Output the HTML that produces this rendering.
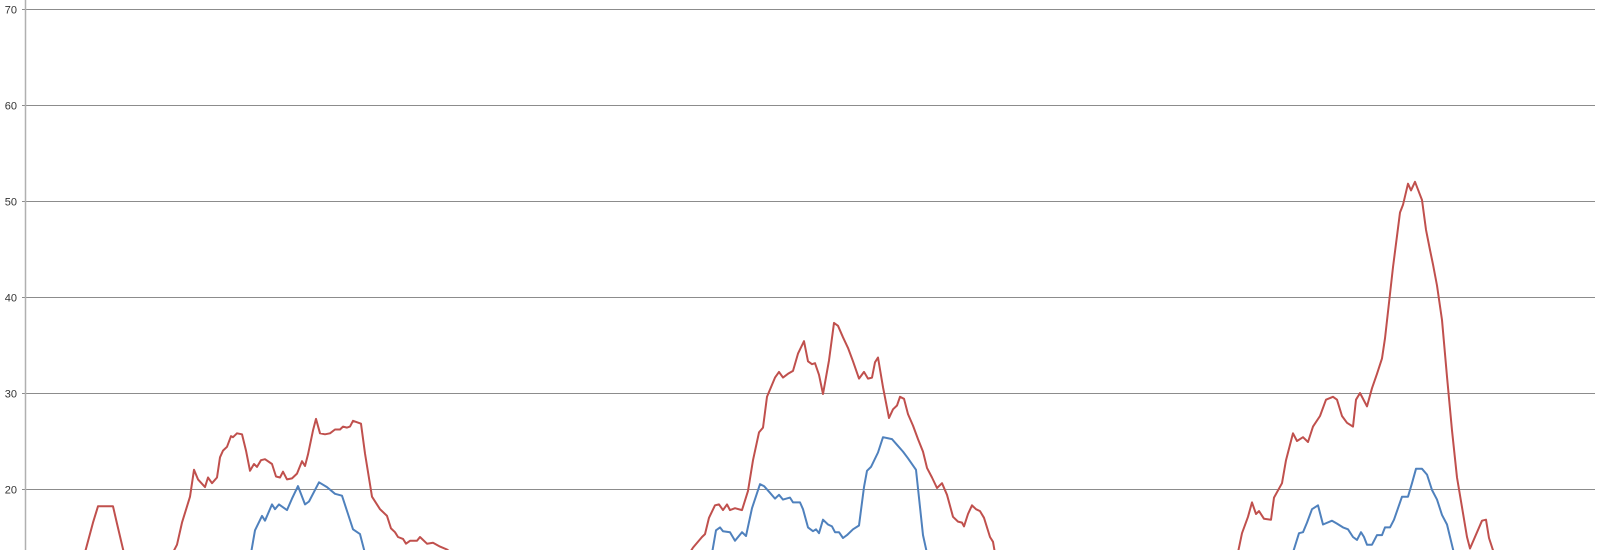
<!DOCTYPE html>
<html><head><meta charset="utf-8"><style>
html,body{margin:0;padding:0;background:#fff;width:1600px;height:550px;overflow:hidden}
svg{display:block;font-family:"Liberation Sans",sans-serif;overflow:hidden}
</style></head><body>
<svg id="chart" width="1600" height="550" viewBox="0 0 1600 550">
<defs><clipPath id="plotclip"><rect x="0" y="0" width="1600" height="550"/></clipPath></defs>
</svg>
<script>
const yTicks=[20,30,40,50,60,70];
const redT=[25,80,85,93,98,113,117,124,130,168,173,177,182,190,194,198,205,208,212,217,220,223,227,231,233,237,242,246,250,254,257,261,265,272,276,280,283,287,292,297,302,305,308,313,316,320,325,330,335,340,343,347,350,353,361,365,372,380,387,391,395,398,403,406,410,417,420,427,433,440,447,452,458,686,690,693,702,705,709,715,719,723,727,730,735,742,748,753,759,763,767,775,779,783,788,793,798,804,808,812,815,819,823,829,834,838,843,848,853,859,864,868,872,875,878,883,889,893,897,900,904,908,913,918,923,927,932,937,942,947,953,958,962,964,968,972,976,980,984,990,993,995,1000,1233,1238,1242,1248,1252,1256,1259,1264,1271,1274,1282,1286,1293,1297,1303,1308,1313,1320,1326,1333,1337,1342,1347,1353,1356,1360,1367,1372,1377,1382,1385,1389,1393,1400,1403,1408,1411,1415,1422,1426,1430,1433,1437,1442,1447,1452,1457,1462,1467,1470,1482,1486,1489,1494,1500,1595];
const redV=[5,5,13.4,16.5,18.2,18.2,16.4,13.3,5,5,13.4,14.2,16.5,19.2,22,21,20.2,21.2,20.6,21.2,23.3,24,24.4,25.5,25.4,25.8,25.7,24,21.9,22.6,22.3,23,23.1,22.6,21.3,21.2,21.8,21,21.1,21.6,22.9,22.4,23.6,26.1,27.3,25.8,25.7,25.8,26.2,26.2,26.5,26.4,26.5,27.1,26.8,23.7,19.2,17.9,17.2,15.9,15.5,15,14.8,14.3,14.6,14.6,15,14.3,14.4,14,13.7,13.3,5,5,13.4,13.9,15,15.3,17,18.3,18.4,17.8,18.4,17.8,18,17.8,19.8,23,25.9,26.4,29.6,31.6,32.2,31.6,32,32.3,34.1,35.4,33.3,33,33.1,31.9,29.9,33.4,37.3,37,35.8,34.7,33.3,31.5,32.2,31.5,31.6,33.2,33.7,30.6,27.4,28.3,28.7,29.6,29.4,27.8,26.6,25.2,23.9,22.2,21.2,20.1,20.6,19.4,17.1,16.6,16.5,16.1,17.4,18.3,17.9,17.7,17,15,14.5,13.3,5,5,13.4,15.4,17.1,18.6,17.4,17.7,16.9,16.8,19.1,20.6,23,25.8,25,25.4,24.9,26.5,27.6,29.3,29.6,29.3,27.6,26.9,26.5,29.3,30,28.6,30.5,32,33.6,35.7,39.4,43.1,48.8,49.6,51.8,51.1,52,50.1,47,44.9,43.4,41.2,37.6,31.7,26.1,21.2,18.1,15,13.8,16.7,16.8,14.9,13.3,5,5];
const blueT=[25,246,251,255,262,265,272,275,279,287,292,298,305,309,319,327,335,342,348,353,360,365,370,707,712,716,720,723,730,735,742,746,752,760,764,770,775,779,783,790,793,800,803,808,813,816,819,823,828,832,835,839,843,847,853,859,864,867,871,878,883,892,897,903,908,916,923,927,932,1288,1293,1299,1303,1307,1312,1318,1323,1332,1337,1343,1348,1353,1357,1361,1364,1367,1372,1377,1382,1385,1390,1394,1402,1408,1412,1416,1422,1427,1432,1437,1442,1447,1454,1460,1595];
const blueV=[5,5,13.3,15.7,17.2,16.7,18.4,17.9,18.4,17.8,19,20.3,18.4,18.7,20.7,20.2,19.5,19.3,17.4,15.8,15.3,13.3,5,5,13.3,15.7,16,15.6,15.5,14.6,15.5,15.1,18,20.5,20.3,19.6,19,19.4,18.9,19.1,18.6,18.6,17.9,16,15.6,15.8,15.4,16.8,16.3,16.1,15.5,15.5,14.9,15.2,15.8,16.2,20.2,21.9,22.3,23.8,25.4,25.2,24.6,23.9,23.2,22,15.2,13.3,5,5,13.4,15.4,15.5,16.5,17.9,18.3,16.3,16.7,16.4,16,15.8,15,14.7,15.5,15,14.2,14.2,15.2,15.2,16,16,16.8,19.2,19.2,20.6,22.1,22.1,21.5,19.9,18.9,17.3,16.3,13.3,5,5];

const NS='http://www.w3.org/2000/svg';
const svg=document.getElementById('chart');
const X0=25,X1=1595;
function xScale(t){return X0+(t-25)*(X1-X0)/(1595-25);}
function yScale(v){return 489-(v-20)*9.6;}
function mk(tag,attrs){const e=document.createElementNS(NS,tag);for(const k in attrs)e.setAttribute(k,attrs[k]);svg.appendChild(e);return e;}

yTicks.forEach(v=>{
  const y=Math.round(yScale(v))+0.5;
  const g=mk('line',{x1:22,x2:X1,y1:y,y2:y,stroke:'#8c8c8c','stroke-width':1});
  
  
  const t=mk('text',{x:17,y:y+4,'text-anchor':'end','font-size':11,fill:'#333'});
  t.textContent=v;
  
  
});
const ax=mk('line',{x1:25.5,x2:25.5,y1:0,y2:550,stroke:'#b0b0b0','stroke-width':1.5});



function series(T,V,color,name){
  const d=T.map((t,i)=>(i?'L':'M')+xScale(t).toFixed(1)+','+Math.min(yScale(V[i]),560).toFixed(1)).join(' ');
  const p=mk('path',{d:d,fill:'none',stroke:color,'stroke-width':2,'stroke-linejoin':'round','clip-path':'url(#plotclip)'});
  
  
}
series(blueT,blueV,'#4f81bd','series-blue-line');
series(redT,redV,'#c0504d','series-red-line');
</script>
</body></html>
